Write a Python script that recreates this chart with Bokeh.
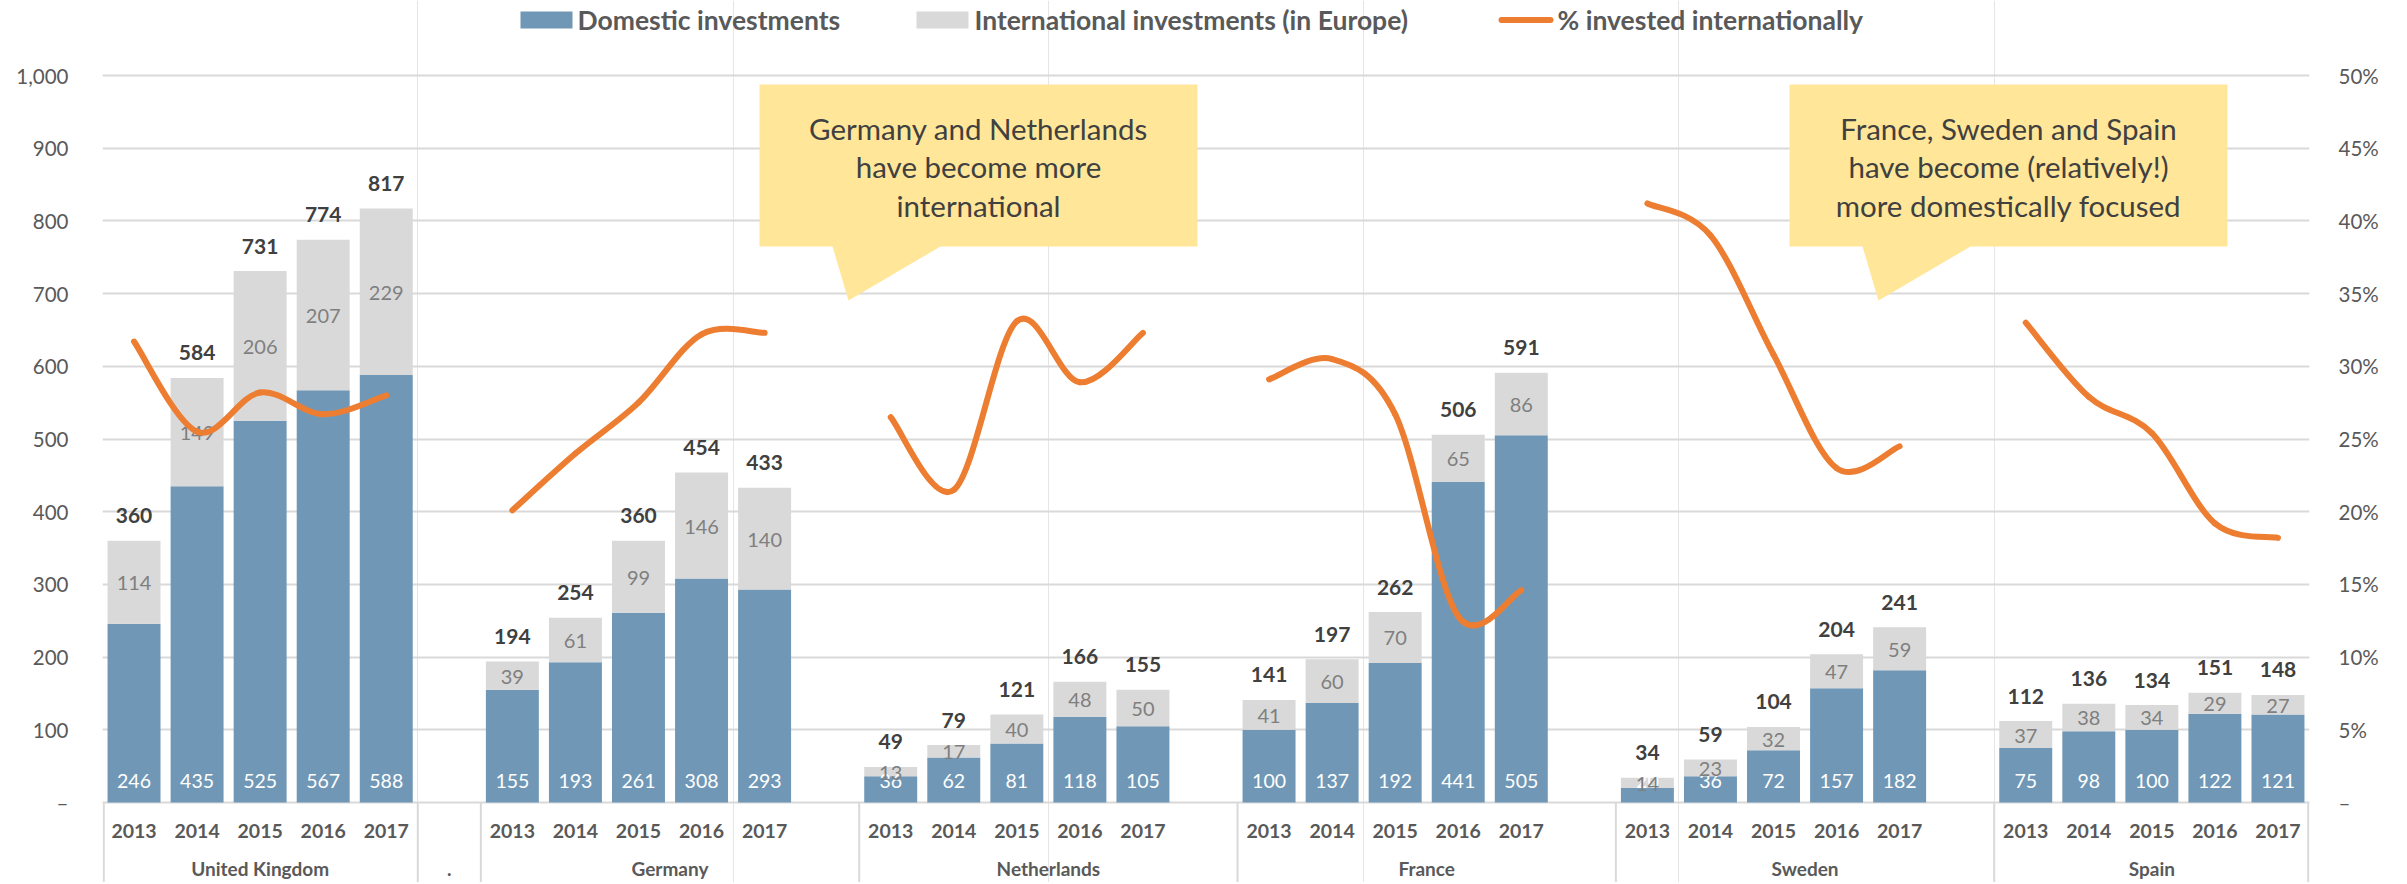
from bokeh.plotting import figure
from bokeh.models import Range1d, LinearAxis, FixedTicker, Grid, PrintfTickFormatter, NumeralTickFormatter
from bokeh.embed import file_html
from bokeh.resources import INLINE
from bokeh.core.properties import value

# ---------------- data ----------------
years = ["2013", "2014", "2015", "2016", "2017"]
countries = ["United Kingdom", "Germany", "Netherlands", "France", "Sweden", "Spain"]

domestic_uk = [246, 435, 525, 567, 588]
domestic_de = [155, 193, 261, 308, 293]
domestic_nl = [36, 62, 81, 118, 105]
domestic_fr = [100, 137, 192, 441, 505]
domestic_se = [20, 36, 72, 157, 182]
domestic_es = [75, 98, 100, 122, 121]

international_uk = [114, 149, 206, 207, 229]
international_de = [39, 61, 99, 146, 140]
international_nl = [13, 17, 40, 48, 50]
international_fr = [41, 60, 70, 65, 86]
international_se = [14, 23, 32, 47, 59]
international_es = [37, 38, 34, 29, 27]

pct_uk = [31.7, 25.5, 28.2, 26.7, 28.0]
pct_de = [20.1, 24.0, 27.5, 32.2, 32.3]
pct_nl = [26.5, 21.5, 33.1, 28.9, 32.3]
pct_fr = [29.1, 30.5, 26.7, 12.8, 14.6]
pct_se = [41.2, 39.0, 30.8, 23.0, 24.5]
pct_es = [33.0, 27.9, 25.4, 19.2, 18.2]

domestic = [domestic_uk, domestic_de, domestic_nl, domestic_fr, domestic_se, domestic_es]
international = [international_uk, international_de, international_nl,
                 international_fr, international_se, international_es]
pct_international = [pct_uk, pct_de, pct_nl, pct_fr, pct_se, pct_es]

# category axis structure: (group label, slot labels); "" = empty slot
groups = [
    ("United Kingdom", years),
    (".", [""]),
    ("Germany", years + [""]),
    ("Netherlands", years + [""]),
    ("France", years + [""]),
    ("Sweden", years + [""]),
    ("Spain", years),
]

legend_labels = ["Domestic investments", "International investments (in Europe)", "% invested internationally"]
callout_1 = ["Germany and Netherlands", "have become more", "international"]
callout_2 = ["France, Sweden and Spain", "have become (relatively!)", "more domestically focused"]

# ---------------- styles ----------------
BLUE = "#7098B6"
GREY = "#D9D9D9"
ORANGE = "#ED7D31"
YELLOW = "#FFE699"
DARK = "#404040"
AXIS_TXT = "#595959"
FONT = "Lato"

# ---------------- geometry (figure pixel coordinates) ----------------
W, H = 2391, 882
FRAME_L, FRAME_R = 102, 2309
BORDER_L, BORDER_R = FRAME_L, W - FRAME_R
FRAME_W = FRAME_R - FRAME_L
n_slots = sum(len(s) for _, s in groups)
SLOT_PX = FRAME_W / n_slots
ZERO_PY = 802.0
K = 0.727  # px per unit


def px2x(px):
    return (px - FRAME_L) / SLOT_PX


def py2y(py):
    return (ZERO_PY - py) / K


Y_MAX = py2y(0)
Y_MIN = py2y(H)

p = figure(width=W, height=H, x_range=Range1d(0, n_slots), y_range=Range1d(Y_MIN, Y_MAX),
           output_backend="svg", toolbar_location=None, title=None,
           x_axis_location=None, y_axis_location=None,
           min_border_left=BORDER_L, min_border_right=BORDER_R,
           min_border_top=0, min_border_bottom=0)
p.outline_line_color = None
p.background_fill_color = "white"
p.border_fill_color = "white"
p.extra_y_ranges = {"pct": Range1d(Y_MIN / 20.0, Y_MAX / 20.0)}

left_ticks = list(range(0, 1001, 100))
left_axis = LinearAxis(ticker=FixedTicker(ticks=left_ticks),
                       formatter=NumeralTickFormatter(format="0,0"),
                       major_label_overrides={0: "–"},
                       axis_line_color=None, major_tick_line_color=None,
                       minor_tick_line_color=None, major_tick_out=0, major_tick_in=0,
                       major_label_standoff=34,
                       major_label_text_font=FONT, major_label_text_font_size="20.5px",
                       major_label_text_color=AXIS_TXT)
p.add_layout(left_axis, "left")

right_ticks = list(range(0, 51, 5))
right_axis = LinearAxis(y_range_name="pct", ticker=FixedTicker(ticks=right_ticks),
                        formatter=PrintfTickFormatter(format="%d%%"),
                        major_label_overrides={0: "–"},
                        axis_line_color=None, major_tick_line_color=None,
                        minor_tick_line_color=None, major_tick_out=0, major_tick_in=0,
                        major_label_standoff=29,
                        major_label_text_font=FONT, major_label_text_font_size="20.5px",
                        major_label_text_color=AXIS_TXT)
p.add_layout(right_axis, "right")

grid = Grid(dimension=1, ticker=FixedTicker(ticks=left_ticks),
            grid_line_color=GREY, grid_line_width=2)
p.add_layout(grid)

# ---------------- slot positions ----------------
slot = 0
bounds = [0.02]
group_centers = []
year_x, year_txt = [], []
country_x = {}
for gname, slots in groups:
    start = slot
    for s in slots:
        if s:
            year_x.append(slot + 0.5)
            year_txt.append(s)
            if gname in countries:
                country_x.setdefault(gname, []).append(slot + 0.5)
        slot += 1
    group_centers.append(((start + slot) / 2.0, gname))
    bounds.append(slot if slot < n_slots else n_slots - 0.02)

# separators of category axis
p.segment(x0=bounds, y0=[0] * len(bounds), x1=bounds, y1=[Y_MIN] * len(bounds),
          line_color=GREY, line_width=2)

# year & group labels
p.text(x=year_x, y=[py2y(830)] * len(year_x), text=year_txt, text_align="center",
       text_baseline="middle", text_font=value(FONT), text_font_style="bold",
       text_font_size="19.5px", text_color=AXIS_TXT)
p.text(x=[c for c, _ in group_centers], y=[py2y(868)] * len(group_centers),
       text=[g for _, g in group_centers], text_align="center",
       text_baseline="middle", text_font=value(FONT), text_font_style="bold",
       text_font_size="19px", text_color=AXIS_TXT)

# ---------------- bars ----------------
xs, dom, intl, tot = [], [], [], []
for ci, c in enumerate(countries):
    xs += country_x[c]
    dom += domestic[ci]
    intl += international[ci]
    tot += [d + i for d, i in zip(domestic[ci], international[ci])]

BAR_W = 0.84
p.vbar(x=xs, width=BAR_W, bottom=0, top=dom, fill_color=BLUE, line_color=None)
p.vbar(x=xs, width=BAR_W, bottom=dom, top=tot, fill_color=GREY, line_color=None)

p.text(x=xs, y=[0] * len(xs), text=[str(v) for v in dom], y_offset=-22,
       text_align="center", text_baseline="middle", text_font=value(FONT),
       text_font_size="19.5px", text_color="white")
p.text(x=xs, y=[d + i / 2.0 for d, i in zip(dom, intl)], text=[str(v) for v in intl],
       y_offset=1, text_align="center", text_baseline="middle", text_font=value(FONT),
       text_font_size="20px", text_color="#7F7F7F")
p.text(x=xs, y=tot, text=[str(v) for v in tot], y_offset=-25,
       text_align="center", text_baseline="middle", text_font=value(FONT),
       text_font_style="bold", text_font_size="21px", text_color=DARK)

# ---------------- smoothed % lines ----------------
bx0, by0, bx1, by1, cx0, cy0, cx1, cy1 = [], [], [], [], [], [], [], []
for ci, c in enumerate(countries):
    px_ = country_x[c]
    py_ = pct_international[ci]
    n = len(px_)
    for i in range(n - 1):
        im1 = max(i - 1, 0)
        ip2 = min(i + 2, n - 1)
        bx0.append(px_[i]); by0.append(py_[i])
        bx1.append(px_[i + 1]); by1.append(py_[i + 1])
        cx0.append(px_[i] + (px_[i + 1] - px_[im1]) / 6.0)
        cy0.append(py_[i] + (py_[i + 1] - py_[im1]) / 6.0)
        cx1.append(px_[i + 1] - (px_[ip2] - px_[i]) / 6.0)
        cy1.append(py_[i + 1] - (py_[ip2] - py_[i]) / 6.0)
p.bezier(x0=bx0, y0=by0, x1=bx1, y1=by1, cx0=cx0, cy0=cy0, cx1=cx1, cy1=cy1,
         y_range_name="pct", line_color=ORANGE, line_width=6, line_cap="round")

# ---------------- callouts ----------------
def callout(left_px, lines):
    L, R, T, B = left_px, left_px + 438, 84, 246
    pts = [(L, T), (R, T), (R, B), (L + 181, B), (L + 89, 300), (L + 73, B), (L, B)]
    p.patch(x=[px2x(a) for a, _ in pts], y=[py2y(b) for _, b in pts],
            fill_color=YELLOW, line_color=None)
    cx = px2x((L + R) / 2.0)
    p.text(x=[cx] * 3, y=[py2y(128.0), py2y(166.3), py2y(204.6)], text=lines,
           text_align="center", text_baseline="middle", text_font=value(FONT),
           text_font_size="29.5px", text_color=DARK)


callout(759, callout_1)
callout(1789, callout_2)

# ---------------- legend ----------------
p.quad(left=[px2x(520), px2x(916)], right=[px2x(572), px2x(968)],
       top=[py2y(11)] * 2, bottom=[py2y(28)] * 2,
       fill_color=[BLUE, GREY], line_color=None)
p.segment(x0=[px2x(1501)], y0=[py2y(19.5)], x1=[px2x(1550)], y1=[py2y(19.5)],
          line_color=ORANGE, line_width=6, line_cap="round")
p.text(x=[px2x(577), px2x(974), px2x(1557)], y=[py2y(19.5)] * 3, text=legend_labels,
       text_align="left", text_baseline="middle", text_font=value(FONT),
       text_font_style="bold", text_font_size="26.5px", text_color=AXIS_TXT)

open("out.html", "w").write(file_html(p, INLINE))
